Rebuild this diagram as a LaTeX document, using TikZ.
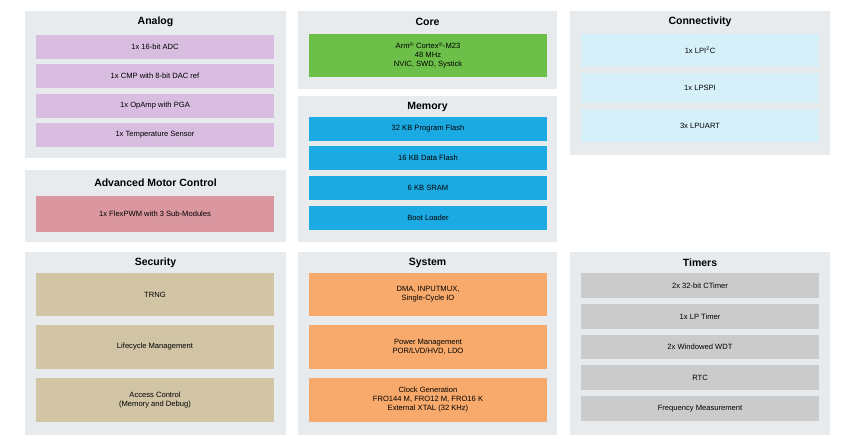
\documentclass[tikz,border=0pt]{standalone}
\usepackage{fontspec}
\setmainfont{Liberation Sans}
\definecolor{panelc}{HTML}{E8EBED}
\definecolor{anac}{HTML}{D8BDE0}
\definecolor{motc}{HTML}{DA97A0}
\definecolor{corec}{HTML}{6CC04A}
\definecolor{memc}{HTML}{1BAAE2}
\definecolor{conc}{HTML}{D6F0FA}
\definecolor{secc}{HTML}{D1C5A6}
\definecolor{sysc}{HTML}{F8AA6C}
\definecolor{timc}{HTML}{CBCBCB}
\begin{document}
\begin{tikzpicture}[x=1pt,y=-1pt,
  panel/.style={fill=panelc,draw=none},
  ttl/.style={font=\fontsize{10.5}{12}\selectfont\bfseries,anchor=center},
  blk/.style={draw=none,font=\fontsize{7.6}{9}\selectfont,align=center}]
\useasboundingbox (0,0) rectangle (850,443);
\newcommand\pnl[5]{\fill[panelc] (#1,#2) rectangle (#3,#4); \node[ttl] (t#5) at ({(#1+#3)/2},#2+11) {\phantom{g}};}
\newcommand\bx[6]{\node[blk,fill=#5,minimum width=#3-#1,minimum height=#4-#2,inner sep=0pt] (#6) at ({(#1+#3)/2},{(#2+#4)/2}) {\fontsize{7.6}{9}\selectfont\shortstack{#6}};}
% panels
\fill[panelc] (25,11) rectangle (286,158);
\fill[panelc] (25,170) rectangle (286,242);
\fill[panelc] (298,11) rectangle (557,89);
\fill[panelc] (298,96) rectangle (557,242);
\fill[panelc] (570,11) rectangle (830,155);
\fill[panelc] (25,252) rectangle (286,435);
\fill[panelc] (298,252) rectangle (557,435);
\fill[panelc] (570,252) rectangle (830,435);
% titles
\node[ttl] (tana) at (155.5,22) {Analog};
\node[ttl] (tmot) at (155.5,183) {Advanced Motor Control};
\node[ttl] (tcore) at (427.5,22) {Core};
\node[ttl] (tmem) at (427.5,107) {Memory};
\node[ttl] (tcon) at (700,22) {Connectivity};
\node[ttl] (tsec) at (155.5,263) {Security};
\node[ttl] (tsys) at (427.5,263) {System};
\node[ttl] (ttim) at (700,263) {Timers};
% analog
\node[blk,fill=anac,minimum width=238,minimum height=24] (a1) at (155,47) {1x 16-bit ADC};
\node[blk,fill=anac,minimum width=238,minimum height=24] (a2) at (155,76) {1x CMP with 8-bit DAC ref};
\node[blk,fill=anac,minimum width=238,minimum height=24] (a3) at (155,106) {1x OpAmp with PGA};
\node[blk,fill=anac,minimum width=238,minimum height=24] (a4) at (155,135) {1x Temperature Sensor};
\node[blk,fill=motc,minimum width=238,minimum height=36] (m1) at (155,214) {1x FlexPWM with 3 Sub-Modules};
% core
\node[blk,fill=corec,minimum width=238,minimum height=43] (c1) at (428,55.5) {Arm\textsuperscript{®} Cortex\textsuperscript{®}-M23\\48 MHz\\NVIC, SWD, Systick};
% memory
\node[blk,fill=memc,minimum width=238,minimum height=24] (me1) at (428,129) {32 KB Program Flash};
\node[blk,fill=memc,minimum width=238,minimum height=24] (me2) at (428,158) {16 KB Data Flash};
\node[blk,fill=memc,minimum width=238,minimum height=24] (me3) at (428,188) {6 KB SRAM};
\node[blk,fill=memc,minimum width=238,minimum height=24] (me4) at (428,218) {Boot Loader};
% connectivity
\node[blk,fill=conc,minimum width=238,minimum height=33] (k1) at (700,50.5) {1x LPI\textsuperscript{2}C};
\node[blk,fill=conc,minimum width=238,minimum height=30] (k2) at (700,88) {1x LPSPI};
\node[blk,fill=conc,minimum width=238,minimum height=33] (k3) at (700,125.5) {3x LPUART};
% security
\node[blk,fill=secc,minimum width=238,minimum height=43] (s1) at (155,294.5) {TRNG};
\node[blk,fill=secc,minimum width=238,minimum height=44] (s2) at (155,347) {Lifecycle Management};
\node[blk,fill=secc,minimum width=238,minimum height=44] (s3) at (155,400) {Access Control\\(Memory and Debug)};
% system
\node[blk,fill=sysc,minimum width=238,minimum height=43] (y1) at (428,294.5) {DMA, INPUTMUX,\\Single-Cycle IO};
\node[blk,fill=sysc,minimum width=238,minimum height=44] (y2) at (428,347) {Power Management\\POR/LVD/HVD, LDO};
\node[blk,fill=sysc,minimum width=238,minimum height=44] (y3) at (428,400) {Clock Generation\\FRO144 M, FRO12 M, FRO16 K\\External XTAL (32 KHz)};
% timers
\node[blk,fill=timc,minimum width=238,minimum height=25] (r1) at (700,285.5) {2x 32-bit CTimer};
\node[blk,fill=timc,minimum width=238,minimum height=25] (r2) at (700,316.5) {1x LP Timer};
\node[blk,fill=timc,minimum width=238,minimum height=24] (r3) at (700,347) {2x Windowed WDT};
\node[blk,fill=timc,minimum width=238,minimum height=25] (r4) at (700,377.5) {RTC};
\node[blk,fill=timc,minimum width=238,minimum height=25] (r5) at (700,408.5) {Frequency Measurement};
\end{tikzpicture}
\end{document}
